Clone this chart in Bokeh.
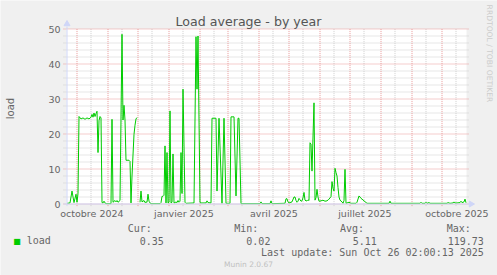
import math
import pandas as pd
from bokeh.plotting import figure
from bokeh.models import Range1d, FixedTicker, Label
from bokeh.embed import file_html
from bokeh.resources import INLINE

# ---------------- data ----------------
start = "2024-09-21 02:00"          # first day of the 400-day window
n_days = 400
# day offset from start, daily load average
day = [0, 3, 5, 7, 9, 10, 11, 12, 14, 16, 18, 20, 22, 24, 25, 26, 27, 28, 29, 30,
       31, 32, 33, 34, 35, 36, 37, 38, 39, 44, 45, 46, 48, 49, 50, 51, 53, 55, 56, 57,
       58, 59, 62, 63, 64, 65, 66, 67, 68, 69, 70, 71, 72, 73, 74, 75, 76, 77, 78, 79,
       80, 81, 82, 83, 84, 93, 94, 95, 96, 97, 98, 99, 100, 101, 102, 103, 104, 105, 106, 107,
       108, 109, 110, 111, 112, 113, 114, 115, 116, 118, 119, 127, 129, 130, 131, 133, 134, 139, 140, 141,
       144, 145, 149, 150, 152, 155, 157, 159, 163, 164, 167, 169, 171, 172, 174, 193, 194, 195, 203, 204,
       205, 218, 219, 220, 221, 222, 225, 227, 228, 229, 230, 231, 232, 233, 234, 235, 236, 237, 238, 239,
       240, 241, 242, 243, 244, 245, 247, 248, 249, 250, 251, 252, 254, 256, 257, 259, 261, 262, 264, 265,
       266, 267, 268, 269, 270, 271, 272, 273, 275, 276, 277, 278, 279, 282, 284, 289, 290, 292, 293, 294,
       295, 297, 300, 322, 323, 324, 353, 354, 355, 358, 359, 360, 362, 363, 380, 381, 383, 386, 387, 388,
       390, 393, 394, 395, 396, 397, 398, 399]
nan = float("nan")
load = [0.2, 0.3, 3.7, 0.4, 2.8, 0.5, 3.0, 25.0, 24.3, 24.6, 24.2, 24.6, 24.3, 24.8, 25.6, 24.8, 26.0, 25.0, 25.8, 26.5,
        14.7, 23.8, 25.0, 24.6, 0.4, 0.3, 0.8, 0.3, 0.1, 0.1, 24.2, 0.5, 1.0, 0.6, 1.0, 0.5, 1.0, 48.5, 24.0, 28.2,
        24.0, 12.5, 12.5, 12.2, 0.3, 8.0, 14.0, 19.9, 22.5, 24.3, 24.7, nan, nan, 0.5, 3.7, 0.6, 0.8, 1.0, 0.4, 0.6,
        0.5, 2.8, 0.8, 0.3, 0.1, 0.1, 0.4, 2.2, 2.2, 2.5, 16.6, 0.3, 14.7, 0.3, 0.5, 26.6, 0.3, 0.5, 14.3, 0.3,
        0.4, 0.6, 0.4, 1.0, 0.5, 0.8, 14.7, 3.0, 32.8, 0.5, 0.2, 0.3, 47.8, 32.8, 48.0, 0.4, 0.3, 0.3, 0.9, 0.4,
        0.3, 24.5, 24.5, 3.7, 24.5, 0.2, 24.5, 0.2, 0.2, 24.9, 24.9, 2.3, 24.5, 24.5, 0.1, 0.1, 0.6, 0.1, 0.1, 0.9,
        0.1, 0.2, 1.5, 1.5, 0.6, 0.3, 0.6, 2.0, 2.0, 1.0, 0.5, 0.8, 1.6, 1.2, 0.8, 0.9, 1.8, 3.3, 1.1, 0.9,
        0.9, 1.2, 1.0, 17.5, 17.1, 9.4, 28.9, 1.1, 1.8, 4.2, 2.0, 0.8, 0.9, 1.1, 0.9, 0.8, 1.1, 1.4, 2.1, 6.4,
        4.5, 3.7, 10.2, 9.0, 8.0, 4.7, 2.0, 1.1, 0.6, 0.2, 1.0, 9.9, 0.2, 0.5, 0.2, 0.2, 0.5, 2.3, 2.0, 1.6,
        1.4, 0.9, 0.2, 0.2, 0.8, 0.2, 0.2, 0.5, 0.2, 0.2, 0.5, 0.2, 0.4, 0.2, 0.2, 0.4, 0.2, 0.3, 0.6, 0.3,
        0.3, 0.4, 0.8, 0.4, 0.5, 0.6, 1.4, 0.35]

y_ticks = [0, 10, 20, 30, 40, 50]
y_max = 50
x_label_dates = ["2024-10-16", "2025-01-16", "2025-04-16", "2025-07-16", "2025-10-16"]
x_labels = ["octobre 2024", "janvier 2025", "avril 2025", "juillet 2025", "octobre 2025"]
title = "Load average - by year"
series_name = "load"
stat_names = ["Cur:", "Min:", "Avg:", "Max:"]
stat_values = ["0.35", "0.02", "5.11", "119.73"]
last_update = "Last update: Sun Oct 26 02:00:13 2025"

# ---------------- layout helpers ----------------
W, H = 497, 275
X0, Y0 = 66.5, 203.5      # screen position (pixel centre) of (day 0, value 0)
PPU = 3.5                 # pixels per load unit
TXT_DY = -3               # baseline correction for labels

t0 = pd.Timestamp(start)
def dnum(s):
    return (pd.Timestamp(s) - t0) / pd.Timedelta(days=1)

def sx(x):   # screen x -> data x
    return x - X0

def sy(y):   # screen y -> data y
    return (Y0 - y) / PPU

p = figure(width=W, height=H, output_backend="svg", toolbar_location=None,
           min_border=0, min_border_left=0, min_border_right=0,
           min_border_top=0, min_border_bottom=0,
           x_range=Range1d(sx(0), sx(W)), y_range=Range1d(sy(H), sy(0)))
p.background_fill_color = "#F0F0F0"
p.border_fill_color = "#F0F0F0"
p.outline_line_color = None
p.xgrid.visible = False
p.ygrid.visible = False

# canvas
p.quad(left=[-0.5], right=[n_days - 0.5], bottom=[0], top=[y_max], fill_color="white", line_color=None)

# grid
minor_col, major_col = "#CFCFCF", "#E99A9A"
minor_y = [v for v in range(0, y_max + 1, 2) if v % 10 != 0]
p.segment(x0=[-3.5] * len(minor_y), x1=[n_days + 2] * len(minor_y), y0=minor_y, y1=minor_y,
          line_color=minor_col, line_dash="1 1", line_width=1)
month_starts = [round(dnum(d)) for d in pd.date_range("2024-10-01", "2025-10-01", freq="MS")]
mid_months = [round(dnum(d)) for d in pd.date_range("2024-09-15", "2025-10-15", freq="SMS")
              if pd.Timestamp(d).day == 15 and 0 < dnum(d) < n_days]
p.segment(x0=mid_months, x1=mid_months, y0=[-0.6] * len(mid_months), y1=[y_max] * len(mid_months),
          line_color=minor_col, line_dash="1 1", line_width=1)
p.segment(x0=[-3.5] * len(y_ticks), x1=[n_days + 2] * len(y_ticks), y0=y_ticks, y1=y_ticks,
          line_color=major_col, line_dash="1 1", line_width=1)
p.segment(x0=month_starts, x1=month_starts, y0=[-0.6] * len(month_starts), y1=[y_max] * len(month_starts),
          line_color=major_col, line_dash="1 1", line_width=1)

# data line
xs = [float(d) for d in day]
p.line(xs, load, line_color="#00CC00", line_width=1.0)

# axis lines + arrows
axis_col = "#CFD6F8"
p.segment(x0=[0, -3.5], x1=[0, 402], y0=[-0.6, 0], y1=[sy(26), 0], line_color=axis_col, line_width=1)
p.scatter(x=[0], y=[sy(23.5)], marker="triangle", size=6, fill_color=axis_col, line_color=axis_col)
p.scatter(x=[404], y=[0], marker="triangle", angle=-math.pi / 2, size=6, fill_color=axis_col, line_color=axis_col)

# axes (tick labels only), fixed inside the full-canvas frame
txt = "#666666"
p.yaxis.fixed_location = sx(62)
p.yaxis.ticker = FixedTicker(ticks=y_ticks)
p.yaxis.axis_line_color = None
p.yaxis.major_tick_line_color = None
p.yaxis.minor_tick_line_color = None
p.yaxis.major_tick_out = 0
p.yaxis.major_tick_in = 0
p.yaxis.major_label_standoff = 2
p.yaxis.major_label_text_font = "DejaVu Sans"
p.yaxis.major_label_text_font_size = "9.5px"
p.yaxis.major_label_text_color = txt

xt = [dnum(d) for d in x_label_dates]
p.xaxis.fixed_location = sy(205)
p.xaxis.ticker = FixedTicker(ticks=xt)
p.xaxis.major_label_overrides = {t: l for t, l in zip(xt, x_labels)}
p.xaxis.axis_line_color = None
p.xaxis.major_tick_line_color = None
p.xaxis.minor_tick_line_color = None
p.xaxis.major_tick_out = 0
p.xaxis.major_tick_in = 0
p.xaxis.major_label_standoff = 2
p.xaxis.major_label_text_font = "DejaVu Sans"
p.xaxis.major_label_text_font_size = "9.5px"
p.xaxis.major_label_text_color = txt

# texts
def lab(x, y, text, font="DejaVu Sans", size="10px", color=txt, align="left", baseline="alphabetic", angle=0):
    if baseline == "alphabetic":
        y = y + TXT_DY
    p.add_layout(Label(x=sx(x), y=sy(y), text=text, text_font=font, text_font_size=size,
                       text_color=color, text_align=align, text_baseline=baseline, angle=angle))

lab(248, 24.3, title, size="12.6px", color="#555555", align="center")
lab(10, 108, series_name, size="10px", align="center", baseline="middle", angle=math.pi / 2)
lab(488.5, 53, "RRDTOOL / TOBI OETIKER", size="7.6px", color="#CCCCCC", align="center",
    baseline="middle", angle=-math.pi / 2)

mono = "DejaVu Sans Mono"
stat_x = [127.2, 233.8, 339.5, 446.2]
val_right = [163.3, 269.9, 376.3, 483.3]
for x, s in zip(stat_x, stat_names):
    lab(x, 230.7, s, font=mono)
for x, v in zip(val_right, stat_values):
    lab(x, 243.3, v, font=mono, align="right")
lab(26.2, 243.3, series_name, font=mono)
lab(16.6, 243.6, "\u25a0", size="8px", color="#00CC00", align="center")
lab(483.3, 255.3, last_update, font=mono, align="right")
lab(248, 266.7, "Munin 2.0.67", size="7.5px", color="#C0C0C0", align="center")

open("out.html", "w").write(file_html(p, INLINE))
